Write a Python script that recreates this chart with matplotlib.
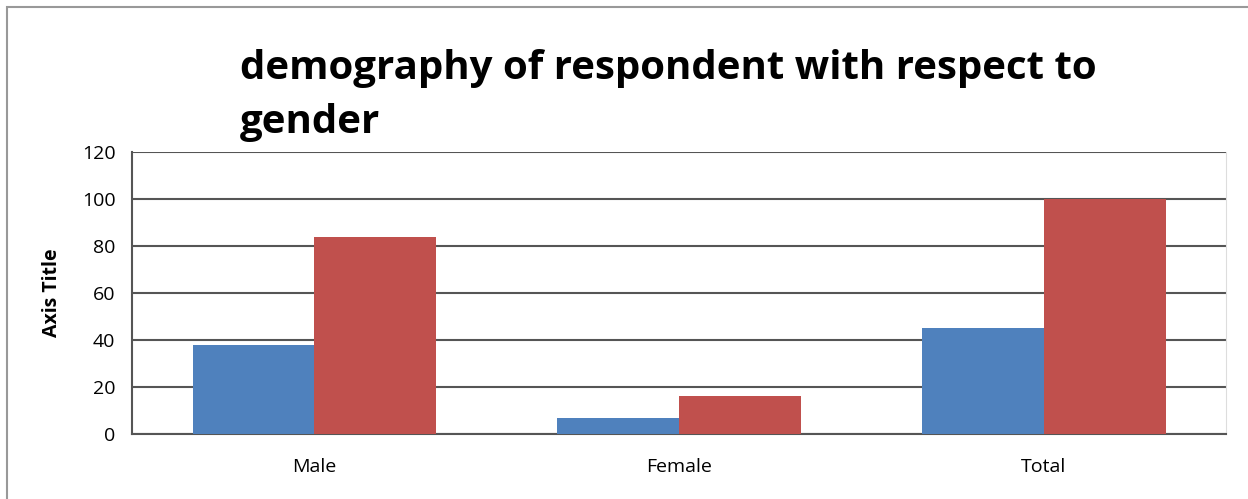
import matplotlib.pyplot as plt
import numpy as np
from matplotlib.patches import Rectangle

categories = ["Male", "Female", "Total"]
series_blue = [38, 7, 45]
series_red = [84, 16, 100]
y_ticks = [0, 20, 40, 60, 80, 100, 120]

blue = "#4F81BD"
red = "#C0504D"

plt.rcParams['font.family'] = ['Open Sans', 'DejaVu Sans']

fig = plt.figure(figsize=(12.48, 4.99), dpi=100)
ax = fig.add_axes([0.1058, 0.1303, 0.8766, 0.5651])

x = np.arange(len(categories))
width = 0.334
ax.bar(x - width / 2, series_blue, width, color=blue, zorder=3)
ax.bar(x + width / 2, series_red, width, color=red, zorder=3)

ax.set_xlim(-0.5, len(categories) - 0.5)
ax.set_ylim(0, 120)
ax.set_yticks(y_ticks)
ax.set_xticks(x)
ax.set_xticklabels(categories, fontsize=14)
ax.tick_params(axis='y', labelsize=14, length=0, pad=12)
ax.tick_params(axis='x', length=0, pad=17)
ax.yaxis.grid(True, color="#555555", linewidth=1.5, zorder=0)

for side in ["left", "bottom"]:
    ax.spines[side].set_color("#555555")
    ax.spines[side].set_linewidth(1.5)
ax.spines["top"].set_visible(False)
ax.spines["right"].set_color("#dddddd")

ax.set_ylabel("Axis Title", fontsize=14, fontweight="bold", labelpad=14)

fig.text(240 / 1248, 1 - 96 / 499, "demography of respondent with respect to\ngender",
         fontsize=29, fontweight="bold", ha="left", va="center", linespacing=1.5)

fig.patches.append(Rectangle((7 / 1248, -0.1), 1.2, 1 - 7 / 499 + 0.1,
                             transform=fig.transFigure, fill=False,
                             edgecolor="#999999", linewidth=1.5))

fig.savefig("out.png", dpi=100)
